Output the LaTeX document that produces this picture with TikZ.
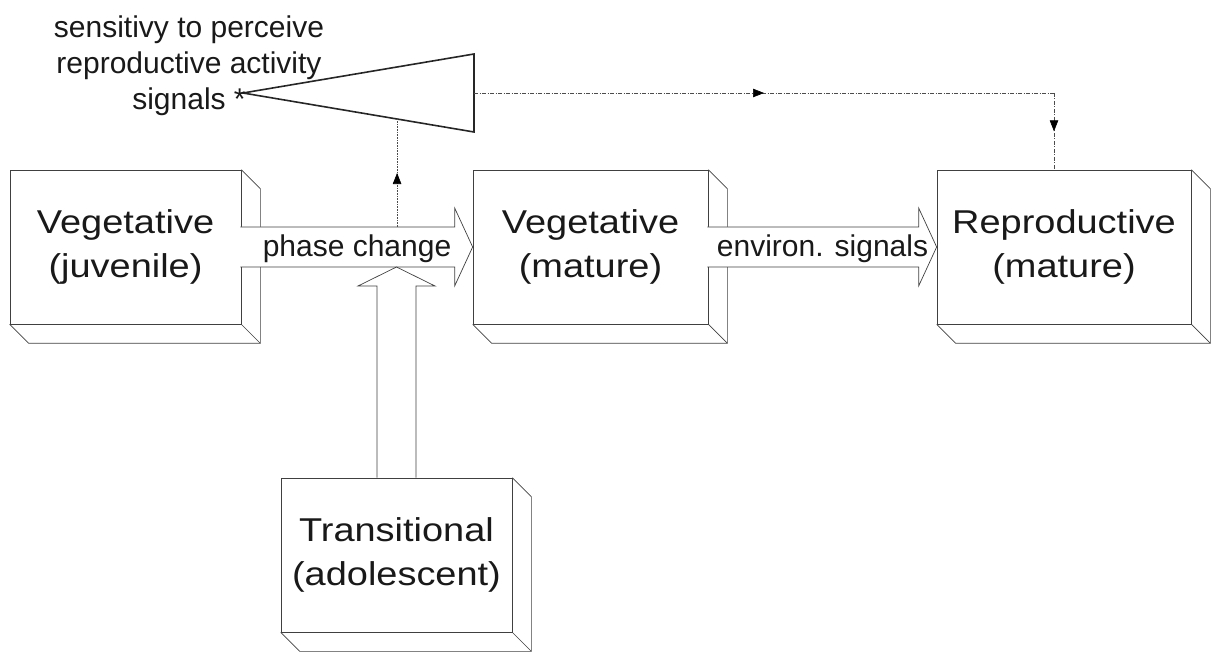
\documentclass[tikz,border=0pt]{standalone}
\usepackage{fontspec}
\setmainfont{Liberation Sans}
\newfontfamily\boxfont[FakeStretch=1.15]{Liberation Sans}
\usetikzlibrary{calc,arrows.meta,decorations.markings}

\begin{document}
\begin{tikzpicture}[x=1pt,y=-1pt,line join=miter]
  \tikzstyle{stage}=[draw=black!75,line width=0.7pt,fill=white,align=center,
                     minimum height=154pt,inner sep=0pt,text=black!90,
                     font=\boxfont\fontsize{33}{44}\selectfont]
  \tikzstyle{edge}=[draw=black!75,line width=0.7pt]
  \tikzstyle{fatarrow}=[draw=black!75,line width=0.7pt,fill=white]
  \tikzstyle{lbl}=[text=black!90,font=\fontsize{30}{36}\selectfont]
  \tikzstyle{midarrow}=[postaction={decorate},decoration={markings,
      mark=at position 0.5 with {\arrow[black,solid]{Triangle[length=11pt,width=8.5pt]}}}]
  \tikzstyle{sigline}=[draw=black!70,line width=0.6pt,
      dash pattern=on 4pt off 1.5pt on 1pt off 1.5pt]

  \useasboundingbox (0,0) rectangle (1216,652);

  % stages
  \node[stage,minimum width=231pt] (juv)   at (125.5,247)  {Vegetative\\(juvenile)};
  \node[stage,minimum width=235pt] (vmat)  at (590.5,247)  {Vegetative\\(mature)};
  \node[stage,minimum width=254pt] (rmat)  at (1064,247)   {Reproductive\\(mature)};
  \node[stage,minimum width=231pt] (trans) at (396.5,555)  {Transitional\\(adolescent)};

  % depth of the boxes
  \foreach \s in {juv,vmat,rmat,trans} {
    \draw[edge] (\s.north east) -- ++(19,19) -- ($(\s.south east)+(19,19)$)
                -- ($(\s.south west)+(19,19)$) -- (\s.south west);
    \draw[edge] (\s.south east) -- ++(19,19);
  }

  % sensitivity wedge
  \coordinate (tip)    at (243,93);
  \coordinate (tritop) at (474,54);
  \coordinate (tribot) at (474,132);
  \draw[black!85,line width=1.6pt] (tip) -- (tritop) -- (tribot) -- cycle;
  \node[lbl,align=center] (sens) at (189,66) {sensitivy to perceive\\reproductive activity\\signals *};

  % phase change
  \coordinate (pctop) at ($(juv.east)+(0,-20)$);
  \coordinate (pcbot) at ($(juv.east)+(0,20)$);
  \draw[fatarrow] ($(pcbot)+(-1,0)$) -- ($(vmat.west)+(-18,20)$) -- ++(0,19)
      -- (vmat.west) -- ++(-18,-39) -- ++(0,19) -- ($(pctop)+(-1,0)$);
  \node[lbl] (pc) at ($(juv.east)!0.5!(vmat.west)+(0,2)$) {phase change};

  % environmental signals
  \draw[fatarrow] ($(vmat.east)+(-1,20)$) -- ($(rmat.west)+(-18,20)$) -- ++(0,19)
      -- (rmat.west) -- ++(-18,-39) -- ++(0,19) -- ($(vmat.east)+(-1,-20)$);
  \node[lbl] (env) at ($(vmat.east)!0.5!(rmat.west)+(0,2)$) {environ. signals};

  % transitional input
  \draw[fatarrow] ($(trans.north)+(-19.5,0)$) -- ($(trans.north |- pcbot)+(-19.5,19)$)
      -- ++(-19,0) -- (trans.north |- pcbot) -- ++(38.5,19) -- ++(-19,0)
      -- ($(trans.north)+(19.5,0)$);

  % signal paths
  \coordinate (dotend)  at ($(tip)!0.667!(tribot)$);
  \coordinate (tribase) at ($(tritop)!0.5!(tribot)$);
  \coordinate (bend)    at ($(tribase)+(580,0)$);
  \draw[black!70,line width=0.6pt,densely dotted,midarrow] (dotend |- pctop) -- (dotend);
  \draw[sigline,midarrow] (tribase) -- (bend);
  \draw[sigline,midarrow] (bend) -- (bend |- rmat.north);
\end{tikzpicture}
\end{document}
